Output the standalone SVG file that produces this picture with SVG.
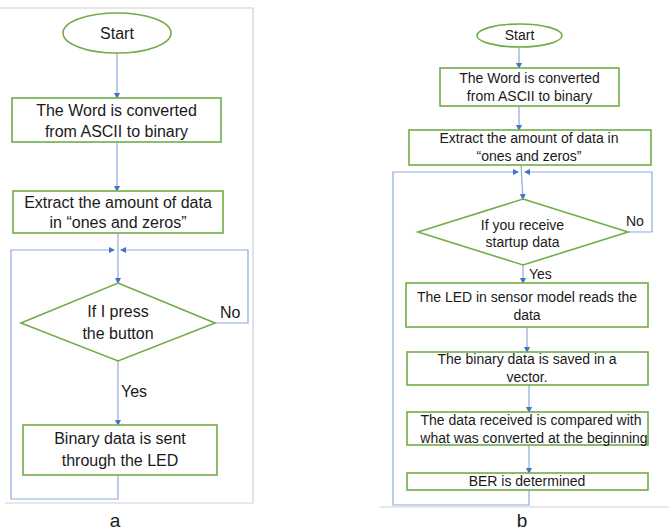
<svg xmlns="http://www.w3.org/2000/svg" width="669" height="531" viewBox="0 0 669 531">
<style>
.n{fill:#fff;stroke:#70AD47;stroke-width:1.6}
.t{font-family:"Liberation Sans",Arial,sans-serif;font-size:16px;fill:#1a1a1a;text-anchor:middle}
.s{font-family:"Liberation Sans",Arial,sans-serif;font-size:14px;fill:#1a1a1a;text-anchor:middle}
.l{font-family:"Liberation Sans",Arial,sans-serif;fill:#1a1a1a}
.c{fill:none;stroke:#8EAADB;stroke-width:1.2}
.f{fill:none;stroke:#D0D0D0;stroke-width:1.2}
</style>
<defs>
<marker id="ah" markerWidth="6" markerHeight="6" refX="5" refY="3" orient="auto" markerUnits="userSpaceOnUse">
<path d="M0,0 L6,3 L0,6 Z" fill="#4472C4"/>
</marker>
</defs>
<rect width="669" height="531" fill="#fff"/>
<g id="frames">
<path class="f" d="M0,8 H253 V503 H5"/>
<path class="f" d="M380,507 H669"/>
</g>
<g id="connectors">
<path class="c" d="M117,53 V98" marker-end="url(#ah)"/>
<path class="c" d="M117,142 V191" marker-end="url(#ah)"/>
<path class="c" d="M118,233 V283" marker-end="url(#ah)"/>
<path class="c" d="M118,361 V425" marker-end="url(#ah)"/>
<path class="c" d="M118,475 V499 H11 V250 H114" marker-end="url(#ah)"/>
<path class="c" d="M215,323 H248 V250 H121" marker-end="url(#ah)"/>
<path class="c" d="M519,47 V68" marker-end="url(#ah)"/>
<path class="c" d="M519,106 V130" marker-end="url(#ah)"/>
<path class="c" d="M521,165 L523,199" marker-end="url(#ah)"/>
<path class="c" d="M523,265 V283" marker-end="url(#ah)"/>
<path class="c" d="M527,327 V352" marker-end="url(#ah)"/>
<path class="c" d="M529,385 V412" marker-end="url(#ah)"/>
<path class="c" d="M529,445 V473" marker-end="url(#ah)"/>
<path class="c" d="M529,490 V505 H393 V172 H518" marker-end="url(#ah)"/>
<path class="c" d="M628,232 H652 V172 H525" marker-end="url(#ah)"/>
</g>
<g id="a-start"><ellipse class="n" cx="117" cy="33" rx="54" ry="20"/><text class="t" x="117" y="39">Start</text></g>
<g id="a-convert"><rect class="n" x="12" y="98" width="209" height="44"/><text class="t" x="116.5" y="116">The Word is converted</text><text class="t" x="116.5" y="137">from ASCII to binary</text></g>
<g id="a-extract"><rect class="n" x="13" y="191" width="210" height="42"/><text class="t" x="118" y="208">Extract the amount of data</text><text class="t" x="118" y="228">in “ones and zeros”</text></g>
<g id="a-decision"><polygon class="n" points="118,283 215,323 118,361 21,323"/><text class="t" x="118" y="317">If I press</text><text class="t" x="118" y="339">the button</text></g>
<g id="a-send"><rect class="n" x="23" y="425" width="194" height="50"/><text class="t" x="120" y="444">Binary data is sent</text><text class="t" x="120" y="466">through the LED</text></g>
<g id="a-labels"><text class="l" x="220" y="318" font-size="16">No</text><text class="l" x="121" y="397" font-size="16">Yes</text><text class="l" x="115" y="527" font-size="19" text-anchor="middle">a</text></g>
<g id="b-start"><ellipse class="n" cx="519.5" cy="35.5" rx="42.5" ry="11.5"/><text class="s" x="519.5" y="40">Start</text></g>
<g id="b-convert"><rect class="n" x="440" y="68" width="179" height="38"/><text class="s" x="529.5" y="83">The Word is converted</text><text class="s" x="529.5" y="101">from ASCII to binary</text></g>
<g id="b-extract"><rect class="n" x="409" y="130" width="242" height="35"/><text class="s" x="529" y="143">Extract the amount of data in</text><text class="s" x="529" y="161">“ones and zeros”</text></g>
<g id="b-decision"><polygon class="n" points="523,199 628,232 523,265 418,232"/><text class="s" x="522.5" y="230">If you receive</text><text class="s" x="522.5" y="247">startup data</text></g>
<g id="b-read"><rect class="n" x="406" y="283" width="242" height="44"/><text class="s" x="527" y="302">The LED in sensor model reads the</text><text class="s" x="527" y="320">data</text></g>
<g id="b-save"><rect class="n" x="407" y="352" width="241" height="33"/><text class="s" x="527" y="364">The binary data is saved in a</text><text class="s" x="527" y="382">vector.</text></g>
<g id="b-compare"><rect class="n" x="407" y="412" width="241" height="33"/><text class="s" x="531" y="425">The data received is compared with</text><text class="s" x="534" y="443">what was converted at the beginning</text></g>
<g id="b-ber"><rect class="n" x="407" y="473" width="241" height="17"/><text class="s" x="527" y="486">BER is determined</text></g>
<g id="b-labels"><text class="l" x="626" y="226" font-size="14">No</text><text class="l" x="529" y="279" font-size="14">Yes</text><text class="l" x="522" y="527" font-size="19" text-anchor="middle">b</text></g>
</svg>
